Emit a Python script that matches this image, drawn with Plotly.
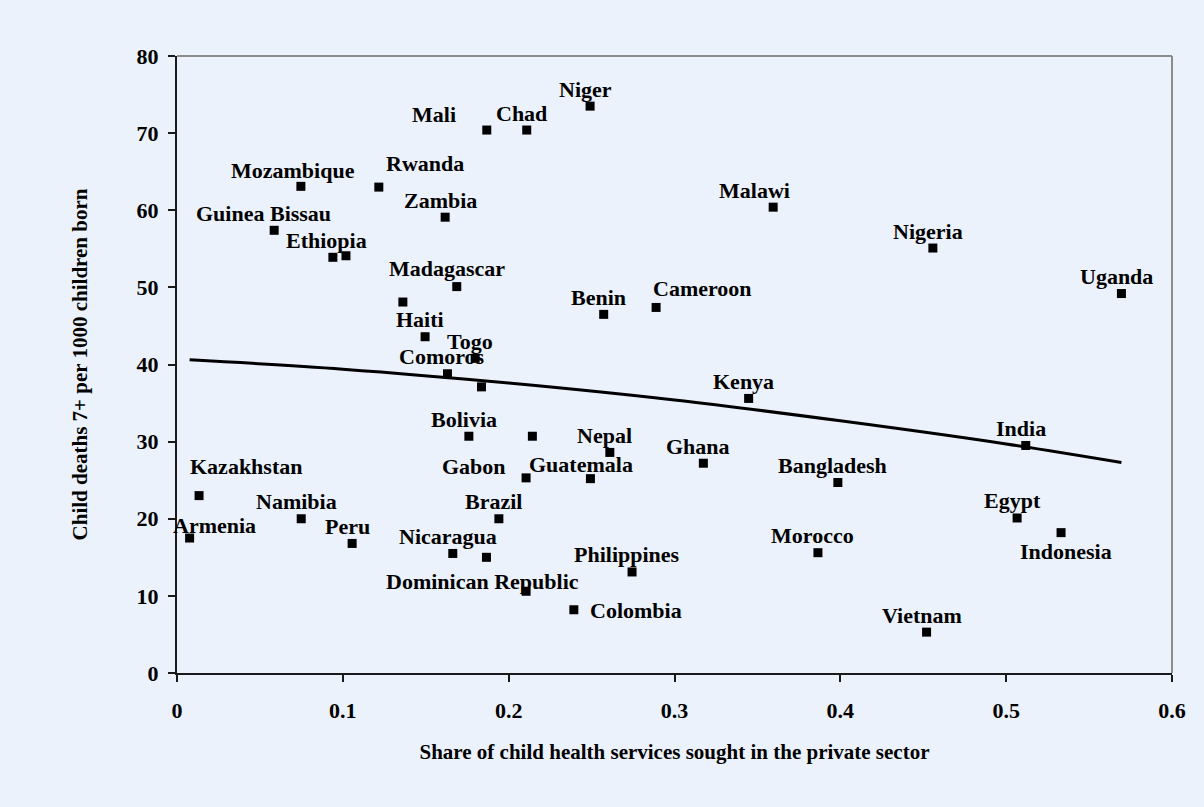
import plotly.graph_objects as go

# ---- data ----
countries = [
    "Armenia", "Kazakhstan", "Namibia", "Peru", "Nicaragua", "",
    "Brazil", "Gabon", "Guatemala", "Dominican Republic", "Colombia",
    "Ethiopia", "", "Madagascar", "", "Haiti", "Togo", "Comoros", "",
    "Bolivia", "", "Benin", "Cameroon", "Kenya", "Nepal", "Ghana",
    "Bangladesh", "Uganda", "India", "Egypt", "Indonesia", "Vietnam",
    "Nigeria", "Niger", "Mali", "Chad", "Rwanda", "Zambia", "Malawi",
    "Mozambique", "Guinea Bissau", "Philippines", "Morocco",
]
private_share = [
    0.0076, 0.0133, 0.0749, 0.1056, 0.1663, 0.1866,
    0.1941, 0.2105, 0.2493, 0.2105, 0.2393,
    0.0940, 0.1019, 0.1687, 0.1362, 0.1496, 0.1798, 0.1631, 0.1836,
    0.1760, 0.2143, 0.2573, 0.2889, 0.3447, 0.2610, 0.3174,
    0.3985, 0.5695, 0.5118, 0.5066, 0.5331, 0.4520,
    0.4558, 0.2491, 0.1868, 0.2109, 0.1217, 0.1617, 0.3595,
    0.0747, 0.0586, 0.2744, 0.3865,
]
child_deaths = [
    17.5, 23.0, 20.0, 16.8, 15.5, 15.0,
    20.0, 25.3, 25.2, 10.6, 8.2,
    53.9, 54.1, 50.1, 48.1, 43.6, 40.8, 38.8, 37.1,
    30.7, 30.7, 46.5, 47.4, 35.6, 28.6, 27.2,
    24.7, 49.2, 29.5, 20.1, 18.2, 5.3,
    55.1, 73.5, 70.4, 70.4, 63.0, 59.1, 60.4,
    63.1, 57.4, 13.1, 15.6,
]
# trend line
trend_share = [0.0076, 0.1, 0.2, 0.3, 0.4, 0.5, 0.5695]
trend_deaths = [40.6, 39.4, 37.6, 35.4, 32.7, 29.7, 27.3]

x_ticks = [0, 0.1, 0.2, 0.3, 0.4, 0.5, 0.6]
y_ticks = [0, 10, 20, 30, 40, 50, 60, 70, 80]

# label placement (pixel shifts from the marker), default above the marker
label_shift = {
    "Armenia": (25, 13), "Kazakhstan": (47, 29), "Gabon": (-52, 11),
    "Guatemala": (-9, 14), "Dominican Republic": (-44, 10),
    "Colombia": (62, -1), "Cameroon": (46, 19), "Indonesia": (5, -19),
    "Mali": (-53, 16), "Rwanda": (46, 24), "Malawi": (-19, 17),
    "Mozambique": (-8, 16), "Guinea Bissau": (-11, 17),
    "Madagascar": (-10, 18), "Ethiopia": (-6, 17),
}
default_shift = (-5, 17)

FONT = "Liberation Serif, Times New Roman, serif"
BG = "#ECF2FB"

fig = go.Figure()
fig.add_trace(go.Scatter(
    x=trend_share, y=trend_deaths, mode="lines",
    line=dict(color="black", width=3, shape="spline"),
    hoverinfo="skip", showlegend=False,
))
fig.add_trace(go.Scatter(
    x=private_share, y=child_deaths, mode="markers",
    marker=dict(symbol="square", size=9, color="black"),
    text=countries, showlegend=False,
))

for name, xv, yv in zip(countries, private_share, child_deaths):
    if not name:
        continue
    dx, dy = label_shift.get(name, default_shift)
    fig.add_annotation(
        x=xv, y=yv, text=name, showarrow=False,
        xshift=dx, yshift=dy,
        font=dict(family=FONT, size=22, color="black", weight="bold"),
    )

# grey top / right frame lines
fig.add_shape(type="line", xref="paper", yref="paper", x0=0, x1=1, y0=1, y1=1,
              line=dict(color="#8C8C8C", width=2))
fig.add_shape(type="line", xref="paper", yref="paper", x0=1, x1=1, y0=0, y1=1,
              line=dict(color="#8C8C8C", width=2))

axis_common = dict(
    showgrid=False, zeroline=False, showline=True, linecolor="#1a1a1a",
    linewidth=2, ticks="outside", ticklen=7, tickwidth=1.5, tickcolor="#1a1a1a",
    tickfont=dict(family=FONT, size=22, color="black", weight="bold"),
)

fig.update_layout(
    width=1204, height=807,
    margin=dict(l=177, r=32, t=56, b=134),
    paper_bgcolor=BG, plot_bgcolor=BG,
    xaxis=dict(
        range=[0, 0.6], tickvals=x_ticks, ticktext=[f"{v:g}" for v in x_ticks],
        ticklabelstandoff=10,
        title=dict(text="Share of child health services sought in the private sector",
                   font=dict(family=FONT, size=21, color="black", weight="bold"),
                   standoff=22),
        **axis_common,
    ),
    yaxis=dict(
        range=[0, 80], tickvals=y_ticks, ticktext=[str(v) for v in y_ticks],
        ticklabelstandoff=5,
        title=dict(text="Child deaths 7+ per 1000 children born",
                   font=dict(family=FONT, size=21, color="black", weight="bold"),
                   standoff=43),
        **axis_common,
    ),
)

fig.write_html("out.html", config={"displayModeBar": False},
               post_script="document.body.style.margin='0';document.body.style.overflow='hidden';")
